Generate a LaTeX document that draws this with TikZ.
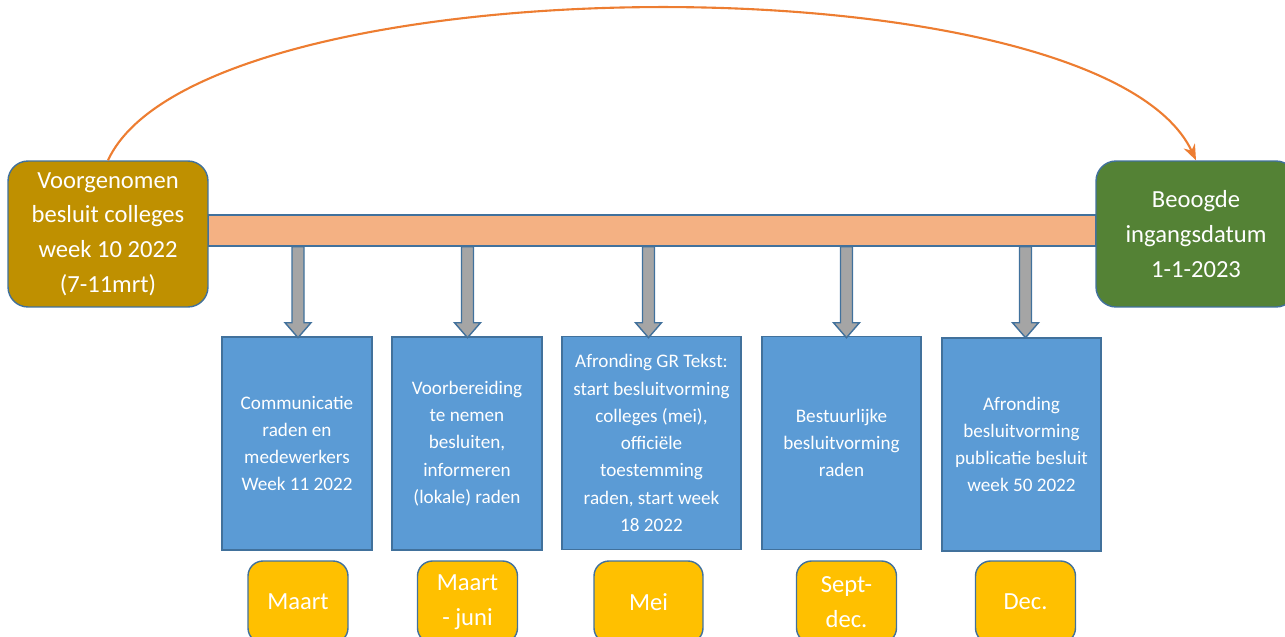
\documentclass[tikz,border=0pt]{standalone}
\usepackage{fontspec}
\setmainfont{Carlito}
\usetikzlibrary{arrows.meta}

\definecolor{goldbox}{HTML}{BF9000}
\definecolor{greenbox}{HTML}{548235}
\definecolor{barpeach}{HTML}{F4B183}
\definecolor{boxblue}{HTML}{5B9BD5}
\definecolor{edgeblue}{HTML}{41719C}
\definecolor{arrowgray}{HTML}{A5A5A5}
\definecolor{monthyellow}{HTML}{FFC000}
\definecolor{arcorange}{HTML}{ED7D31}

\begin{document}
\begin{tikzpicture}[x=0.02cm,y=-0.02cm,
    every node/.style={text=white,align=center,draw=edgeblue,line width=0.8pt},
    mainbox/.style={rounded corners=0.4cm,minimum width=4cm,minimum height=2.92cm,font=\fontsize{14}{19.8}\selectfont},
    stepbox/.style={fill=boxblue,minimum height=4.26cm,font=\fontsize{10.9}{15.5}\selectfont},
    monthbox/.style={fill=monthyellow,rounded corners=0.3cm,minimum width=2cm,minimum height=1.64cm,font=\fontsize{14}{19.8}\selectfont},
    blockarrow/.style={fill=arrowgray,draw=edgeblue,line width=0.8pt},
    arc/.style={draw=arcorange,line width=1.2pt,-{Stealth[length=9pt,width=7pt]}}]
				\useasboundingbox (0,0) rectangle (1285,636);

				% time line
				\node[fill=barpeach,minimum width=17.76cm,minimum height=0.62cm] (bar) at (652,230.5) {};

				\node[mainbox,fill=goldbox] (start) at (108,234) {Voorgenomen\\besluit colleges\\week 10 2022\\(7-11mrt)};
				\node[mainbox,fill=greenbox] (goal) at (1196,234) {Beoogde\\ingangsdatum\\1-1-2023};

				\draw[arc] (start.north) .. controls (200,-40) and (1100,-45) .. (goal.north);

				% steps
				\node[stepbox,minimum width=3cm] (s1) at (297,443.5) {Communicatie\\raden en\\medewerkers\\Week 11 2022};
				\node[stepbox,minimum width=3cm] (s2) at (467,443.5) {Voorbereiding\\te nemen\\besluiten,\\informeren\\(lokale) raden};
				\node[stepbox,minimum width=3.58cm] (s3) at (651.5,443) {Afronding GR Tekst:\\start besluitvorming\\colleges (mei),\\officiële\\toestemming\\raden, start week\\18 2022};
				\node[stepbox,minimum width=3.18cm] (s4) at (841.5,443) {Bestuurlijke\\besluitvorming\\raden};
				\node[stepbox,minimum width=3.18cm] (s5) at (1021.5,444.5) {Afronding\\besluitvorming\\publicatie besluit\\week 50 2022};

				% months
				\node[monthbox] (m1) at (298,602) {Maart};
				\node[monthbox] (m2) at (467.5,602) {Maart\\- juni};
				\node[monthbox,minimum width=2.18cm] (m3) at (648.5,602) {Mei};
				\node[monthbox] (m4) at (846.5,602) {Sept-\\dec.};
				\node[monthbox] (m5) at (1025.5,602) {Dec.};

				\foreach \m in {m1,m2,m3,m4,m5}
					\draw[blockarrow] (\m |- bar.south) ++(-6,0) -- ++(0,76) -- ++(-7,0) -- ++(13,15)
						-- ++(13,-15) -- ++(-7,0) -- ++(0,-76) -- cycle;
			\end{tikzpicture}
\end{document}
